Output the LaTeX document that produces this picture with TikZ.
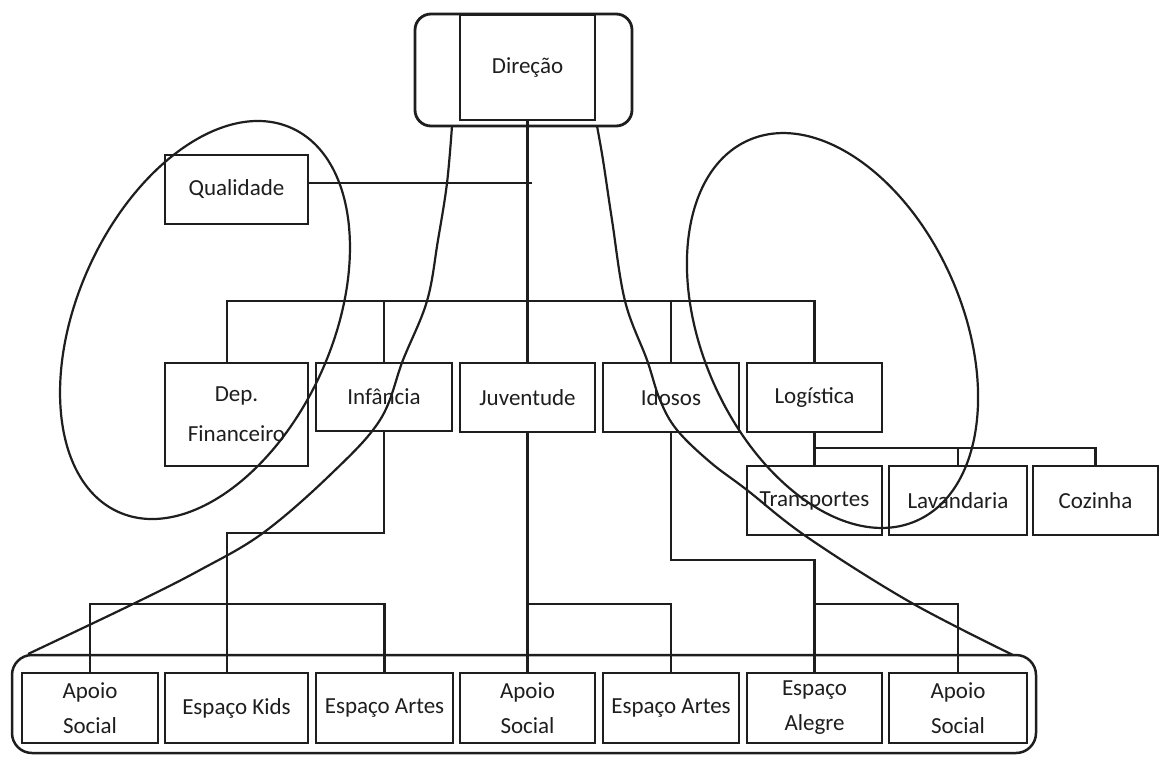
\documentclass[tikz,border=0pt]{standalone}
\usepackage{fontspec}
\setmainfont{Carlito}
\definecolor{ink}{HTML}{1E1E1E}
\begin{document}
\begin{tikzpicture}[x=1pt,y=-1pt,
  box/.style={draw=ink, line width=2.8pt, rectangle, inner sep=0pt, align=center, text=ink, font=\fontsize{23}{35}\selectfont},
  conn/.style={draw=ink, line width=2.5pt},
  loopline/.style={draw=ink, line width=2.2pt}]
\useasboundingbox (0,0) rectangle (1161,756);
\fill[white] (0,0) rectangle (1161,756);

% Direcao
\draw[conn, line width=2.8pt, rounded corners=16] (415,14) rectangle (632,126);
\node[box, minimum width=135, minimum height=105] (dir) at (527.5,67.5) {Direção};

% upper boxes
\node[box, minimum width=143, minimum height=69] (qual) at (236.5,189.5) {Qualidade};
\node[box, minimum width=143, minimum height=103] (dep) at (236.5,414.5) {Dep.\\[5pt]Financeiro};
\node[box, minimum width=136, minimum height=68] (inf) at (384,397) {Infância};
\node[box, minimum width=135, minimum height=69] (juv) at (527.5,397.5) {Juventude};
\node[box, minimum width=136, minimum height=69] (ido) at (671,397.5) {Idosos};
\node[box, minimum width=135, minimum height=69] (log) at (814.5,397.5) {Logística};
\node[box, minimum width=135, minimum height=69] (trans) at (814.5,500.5) {Transportes};
\node[box, minimum width=138, minimum height=69] (lav) at (958,500.5) {Lavandaria};
\node[box, minimum width=125, minimum height=69] (coz) at (1095.5,500.5) {Cozinha};

% bottom row
\node[box, minimum width=136, minimum height=70] (ap1) at (90,708) {Apoio\\Social};
\node[box, minimum width=143, minimum height=70] (kids) at (236.5,708) {Espaço Kids};
\node[box, minimum width=137, minimum height=70] (art1) at (384.5,708) {Espaço Artes};
\node[box, minimum width=135, minimum height=70] (ap2) at (527.5,708) {Apoio\\Social};
\node[box, minimum width=136, minimum height=70] (art2) at (671,708) {Espaço Artes};
\node[box, minimum width=135, minimum height=70] (ale) at (814.5,708) {Espaço\\Alegre};
\node[box, minimum width=138, minimum height=70] (ap3) at (958,708) {Apoio\\Social};

% container of bottom row
\draw[conn, rounded corners=20] (12,655) rectangle (1036,753);

% connectors
\coordinate (qj) at (532,183);
\coordinate (tb) at (227,301);
\coordinate (ik) at (227,533);
\coordinate (ib) at (0,604);
\coordinate (ia) at (0,560);
\coordinate (lb) at (0,448);

\draw[conn] (dir.south) -- (juv.north);
\draw[conn] (qual.east |- qj) -- (qj);
\draw[conn] ([xshift=-9.5pt]dep.north) -- (tb) -- (log.north |- tb) -- (log.north);
\draw[conn] (inf.north) -- (inf.north |- tb);
\draw[conn] (ido.north) -- (ido.north |- tb);

\draw[conn] (inf.south) -- (inf.south |- ik) -- (ik) -- ([xshift=-9.5pt]kids.north);
\draw[conn] (ap1.north) -- (ap1.north |- ib) -- (art1.north |- ib) -- (art1.north);

\draw[conn] (juv.south) -- (ap2.north);
\draw[conn] (ap2.north |- ib) -- (art2.north |- ib) -- (art2.north);

\draw[conn] (ido.south) -- (ido.south |- ia) -- (ale.north |- ia) -- (ale.north);
\draw[conn] (ale.north |- ib) -- (ap3.north |- ib) -- (ap3.north);

\draw[conn] (log.south) -- (trans.north);
\draw[conn] (log.south |- lb) -- (coz.north |- lb) -- (coz.north);
\draw[conn] (lav.north |- lb) -- (lav.north);

% ellipses
\draw[loopline] (205,320) ellipse [x radius=210.6, y radius=127.5, rotate=65.7];
\draw[loopline] (832.5,330.5) ellipse [x radius=208, y radius=130, rotate=113.8];

% funnel curves
\draw[loopline] plot[smooth, tension=0.6] coordinates {(452,126) (447,183) (438,240) (427,301) (403,360) (380,420) (330,475) (263,533) (200,570) (133,604) (28,654)};
\draw[loopline] plot[smooth, tension=0.6] coordinates {(597,126) (603,160) (612,220) (625,301) (647,360) (660,400) (677,430) (710,462) (747,490) (807,537) (910,602) (1013,655)};
\end{tikzpicture}
\end{document}
